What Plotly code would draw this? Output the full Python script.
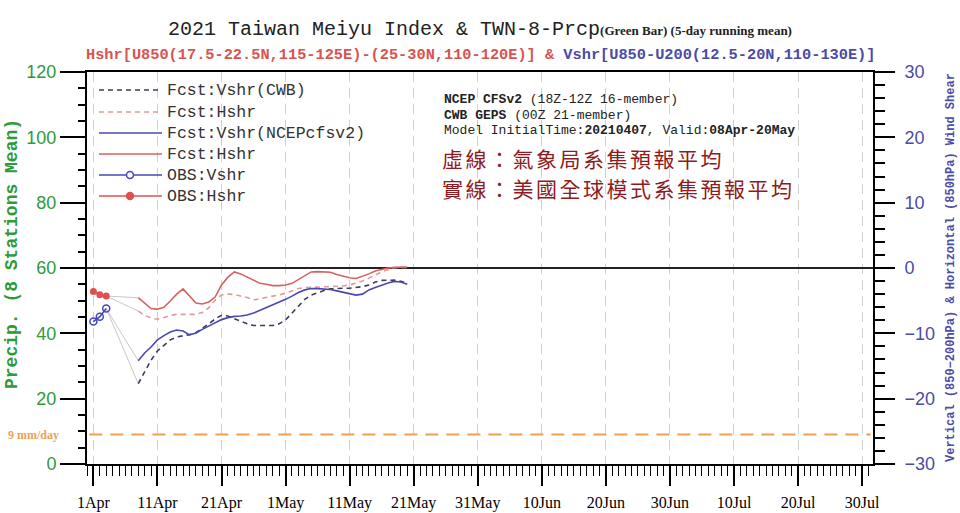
import plotly.graph_objects as go
import pandas as pd

# ---------------- data ----------------
OBS_DATES = ["2021-04-01", "2021-04-02", "2021-04-03"]
OBS_HSHR = [-3.6, -4.1, -4.3]
OBS_VSHR = [-8.2, -7.45, -6.2]

FCST_DATES = list(pd.date_range("2021-04-08", "2021-05-20").strftime("%Y-%m-%d"))

NCEP_HSHR = [-4.55, -5.4, -6.2, -6.3, -6.0, -5.05, -4.0, -3.2, -4.3, -5.35,
             -5.5, -5.2, -4.45, -2.6, -1.4, -0.6, -0.9, -1.4, -1.85, -2.35,
             -2.5, -2.7, -2.7, -2.6, -2.35, -1.75, -1.15, -0.6, -0.55, -0.6,
             -0.65, -1.0, -1.3, -1.5, -1.6, -1.3, -0.9, -0.45, -0.2, 0.0,
             0.1, 0.15, 0.15]
CWB_HSHR = [-6.6, -7.25, -7.65, -7.85, -7.6, -7.25, -7.1, -7.1, -7.2, -7.1,
            -6.8, -6.1, -4.9, -4.15, -4.0, -4.05, -4.3, -4.5, -4.9, -4.75,
            -4.5, -4.3, -4.15, -3.85, -3.45, -3.15, -3.0, -2.95, -2.95, -2.9,
            -2.9, -2.85, -2.75, -2.6, -2.35, -2.0, -1.55, -1.05, -0.6, -0.25,
            0.05, 0.1, 0.1]
NCEP_VSHR = [-14.2, -13.0, -12.1, -11.0, -10.35, -9.8, -9.5, -9.65, -10.25, -9.95,
             -9.4, -8.9, -8.35, -7.9, -7.6, -7.4, -7.35, -7.2, -6.9, -6.5,
             -6.1, -5.65, -5.3, -4.8, -4.3, -3.75, -3.35, -3.15, -3.15, -3.2,
             -3.3, -3.5, -3.75, -4.0, -4.15, -4.0, -3.35, -3.0, -2.6, -2.3,
             -2.05, -2.15, -2.5]
CWB_VSHR = [-17.7, -15.9, -14.1, -12.7, -11.8, -11.0, -10.55, -10.4, -10.2, -9.9,
            -9.25, -8.55, -7.8, -7.25, -7.35, -7.75, -8.2, -8.55, -8.8, -8.85,
            -8.8, -8.8, -8.55, -7.95, -6.9, -5.8, -4.8, -4.15, -3.75, -3.45,
            -3.2, -3.1, -3.1, -3.1, -3.0, -2.85, -2.6, -2.15, -1.9, -1.85,
            -1.85, -2.05, -2.3]

PRECIP_THRESHOLD = 9  # mm/day

TICK_DATES = ["2021-04-01", "2021-04-11", "2021-04-21", "2021-05-01", "2021-05-11",
              "2021-05-21", "2021-05-31", "2021-06-10", "2021-06-20", "2021-06-30",
              "2021-07-10", "2021-07-20", "2021-07-30"]
TICK_LABELS = ["1Apr", "11Apr", "21Apr", "1May", "11May", "21May", "31May",
               "10Jun", "20Jun", "30Jun", "10Jul", "20Jul", "30Jul"]

LEGEND_LABELS = ["Fcst:Vshr(CWB)", "Fcst:Hshr", "Fcst:Vshr(NCEPcfsv2)",
                 "Fcst:Hshr", "OBS:Vshr", "OBS:Hshr"]

# ---------------- styles ----------------
GREEN = "#2E9B3A"
BLUE = "#4B4BA8"
RED_T = "#D9534F"
ORANGE = "#F0A050"
CN_RED = "#8E1B22"
C_RED = "#D96060"
C_PINK = "#E39A9A"
C_BLUE = "#4848B4"
C_NAVY = "#3C3C5E"
C_GRAY = "#C8C8C8"
MONO = "Liberation Mono"

ML, MR, MT, MB = 87, 87, 72, 49
PW, PH = 960 - ML - MR, 513 - MT - MB


def pxx(x):
    return (x - ML) / PW


def pxy(y):
    return (MT + PH - y) / PH


fig = go.Figure()

# gray connectors from last observation to first forecast
for obs, fc in [(OBS_HSHR, NCEP_HSHR), (OBS_HSHR, CWB_HSHR),
                (OBS_VSHR, NCEP_VSHR), (OBS_VSHR, CWB_VSHR)]:
    fig.add_trace(go.Scatter(x=[OBS_DATES[-1], FCST_DATES[0]], y=[obs[-1], fc[0]],
                             mode="lines", line=dict(color=C_GRAY, width=1),
                             yaxis="y2", showlegend=False, hoverinfo="skip"))

dash_style = "5px,4px"
fig.add_trace(go.Scatter(x=FCST_DATES, y=CWB_HSHR, mode="lines", yaxis="y2",
                         line=dict(color=C_PINK, width=1.6, dash=dash_style),
                         name="Fcst:Hshr (CWB)", showlegend=False))
fig.add_trace(go.Scatter(x=FCST_DATES, y=CWB_VSHR, mode="lines", yaxis="y2",
                         line=dict(color=C_NAVY, width=1.6, dash=dash_style),
                         name="Fcst:Vshr(CWB)", showlegend=False))
fig.add_trace(go.Scatter(x=FCST_DATES, y=NCEP_HSHR, mode="lines", yaxis="y2",
                         line=dict(color=C_RED, width=1.6),
                         name="Fcst:Hshr", showlegend=False))
fig.add_trace(go.Scatter(x=FCST_DATES, y=NCEP_VSHR, mode="lines", yaxis="y2",
                         line=dict(color=C_BLUE, width=1.6),
                         name="Fcst:Vshr(NCEPcfsv2)", showlegend=False))
fig.add_trace(go.Scatter(x=OBS_DATES, y=OBS_VSHR, mode="lines+markers", yaxis="y2",
                         line=dict(color=C_BLUE, width=1.6),
                         marker=dict(symbol="circle-open", size=7, color=C_BLUE,
                                     line=dict(width=1.5)),
                         name="OBS:Vshr", showlegend=False))
fig.add_trace(go.Scatter(x=OBS_DATES, y=OBS_HSHR, mode="lines+markers", yaxis="y2",
                         line=dict(color="#E05050", width=1.6),
                         marker=dict(symbol="circle", size=7, color="#E05050"),
                         name="OBS:Hshr", showlegend=False))

shapes = []
annotations = []

# threshold line (precip axis)
shapes.append(dict(type="line", xref="paper", x0=0.003, x1=0.997, yref="y",
                   y0=PRECIP_THRESHOLD, y1=PRECIP_THRESHOLD,
                   line=dict(color=ORANGE, width=2, dash="13px,8px")))
annotations.append(dict(xref="paper", x=pxx(61), yref="y", y=PRECIP_THRESHOLD,
                        xanchor="right", yanchor="middle", showarrow=False,
                        text="<b>9 mm/day</b>",
                        font=dict(family="Liberation Serif", size=12, color=ORANGE)))

# manual legend
leg_rows = [90, 112, 133, 154, 175, 196]
leg_styles = [dict(color=C_NAVY, dash=dash_style), dict(color=C_PINK, dash=dash_style),
              dict(color=C_BLUE), dict(color=C_RED), dict(color=C_BLUE),
              dict(color="#E05050")]
for i, (yy, st, lab) in enumerate(zip(leg_rows, leg_styles, LEGEND_LABELS)):
    shapes.append(dict(type="line", xref="paper", yref="paper",
                       x0=pxx(99), x1=pxx(162), y0=pxy(yy), y1=pxy(yy),
                       line=dict(width=1.6, **st)))
    if i >= 4:
        r = 3.5
        shapes.append(dict(type="circle", xref="paper", yref="paper",
                           x0=pxx(130 - r), x1=pxx(130 + r),
                           y0=pxy(yy + r), y1=pxy(yy - r),
                           line=dict(color=st["color"], width=1.5),
                           fillcolor=("white" if i == 4 else st["color"])))
    annotations.append(dict(xref="paper", yref="paper", x=pxx(165), y=pxy(yy),
                            xanchor="left", yanchor="middle", showarrow=False,
                            text=lab, font=dict(family=MONO, size=16.5, color="#333333")))

# titles
annotations.append(dict(xref="paper", yref="paper", x=pxx(480), y=pxy(30),
                        xanchor="center", yanchor="middle", showarrow=False,
                        text="2021 Taiwan Meiyu Index &amp; TWN-8-Prcp"
                             "<span style='font-family:Liberation Serif;font-size:13px'>"
                             "<b>(Green Bar) (5-day running mean)</b></span>",
                        font=dict(family=MONO, size=20, color="#222222")))
annotations.append(dict(xref="paper", yref="paper", x=pxx(480), y=pxy(55),
                        xanchor="center", yanchor="middle", showarrow=False,
                        text=f"<span style='color:{RED_T}'><b>Hshr[U850(17.5-22.5N,115-125E)-(25-30N,110-120E)]</b></span>"
                             f"<span style='color:{RED_T}'><b> &amp; </b></span>"
                             f"<span style='color:{BLUE}'><b>Vshr[U850-U200(12.5-20N,110-130E)]</b></span>",
                        font=dict(family=MONO, size=15.3)))

# axis titles
annotations.append(dict(xref="paper", yref="paper", x=pxx(12), y=pxy(254),
                        xanchor="center", yanchor="middle", showarrow=False, textangle=-90,
                        text="<b>Precip. (8 Stations Mean)</b>",
                        font=dict(family=MONO, size=18, color=GREEN)))
annotations.append(dict(xref="paper", yref="paper", x=pxx(951), y=pxy(268),
                        xanchor="center", yanchor="middle", showarrow=False, textangle=-90,
                        text="<b>Vertical (850\u2212200hPa) &amp; Horizontal (850hPa) Wind Shear</b>",
                        font=dict(family=MONO, size=12, color=BLUE)))

# info block
info = [(100, "<b>NCEP CFSv2</b> (18Z-12Z 16-member)"),
        (115, "<b>CWB GEPS</b> (00Z 21-member)"),
        (130, "Model InitialTime:<b>20210407</b>, Valid:<b>08Apr-20May</b>")]
for yy, t in info:
    annotations.append(dict(xref="paper", yref="paper", x=pxx(442), y=pxy(yy),
                            xanchor="left", yanchor="middle", showarrow=False, text=t,
                            font=dict(family=MONO, size=13, color="#222222")))
for yy, t in [(158, "虛線：氣象局系集預報平均"), (188, "實線：美國全球模式系集預報平均")]:
    annotations.append(dict(xref="paper", yref="paper", x=pxx(440), y=pxy(yy),
                            xanchor="left", yanchor="middle", showarrow=False,
                            text=f"<span style='letter-spacing:2.5px'>{t}</span>",
                            font=dict(family="Noto Sans CJK TC", size=21, color=CN_RED)))

fig.update_layout(
    width=960, height=513,
    margin=dict(l=ML, r=MR, t=MT, b=MB, autoexpand=False),
    paper_bgcolor="white", plot_bgcolor="white",
    showlegend=False,
    shapes=shapes, annotations=annotations,
    xaxis=dict(type="date", range=["2021-03-31", "2021-07-31 16:48"], automargin=False,
               tickvals=TICK_DATES, ticktext=TICK_LABELS,
               ticks="outside", ticklen=20, tickwidth=2, tickcolor="black",
               ticklabelstandoff=3,
               tickfont=dict(family="Liberation Serif", size=16, color="black"),
               showline=True, linecolor="black", linewidth=2, mirror=True,
               showgrid=True, gridcolor="#D0D0D0", gridwidth=1.3, griddash="10px,6px",
               minor=dict(dtick=86400000, tick0="2021-04-01", ticks="outside",
                          ticklen=10, tickwidth=1.2, tickcolor="black", showgrid=False),
               zeroline=False),
    yaxis=dict(range=[0, 120], dtick=20, ticks="outside", ticklen=25, tickwidth=2,
               automargin=False,
               tickcolor="black", tickfont=dict(family="Liberation Sans", size=18, color=GREEN),
               showline=True, linecolor="black", linewidth=2, showgrid=False, zeroline=False,
               minor=dict(dtick=5, ticks="outside", ticklen=7, tickwidth=1.5,
                          tickcolor="black", showgrid=False)),
    yaxis2=dict(range=[-30, 30], dtick=10, overlaying="y", side="right", automargin=False,
                ticks="outside", ticklen=20, tickwidth=2, tickcolor="black",
                ticklabelstandoff=6,
                tickfont=dict(family="Liberation Sans", size=18, color=BLUE),
                showline=True, linecolor="black", linewidth=2, showgrid=False,
                zeroline=True, zerolinecolor="#222222", zerolinewidth=1.6,
                minor=dict(dtick=2, ticks="outside", ticklen=10, tickwidth=1.5,
                           tickcolor="black", showgrid=False)),
)

fig.write_html("out.html")
